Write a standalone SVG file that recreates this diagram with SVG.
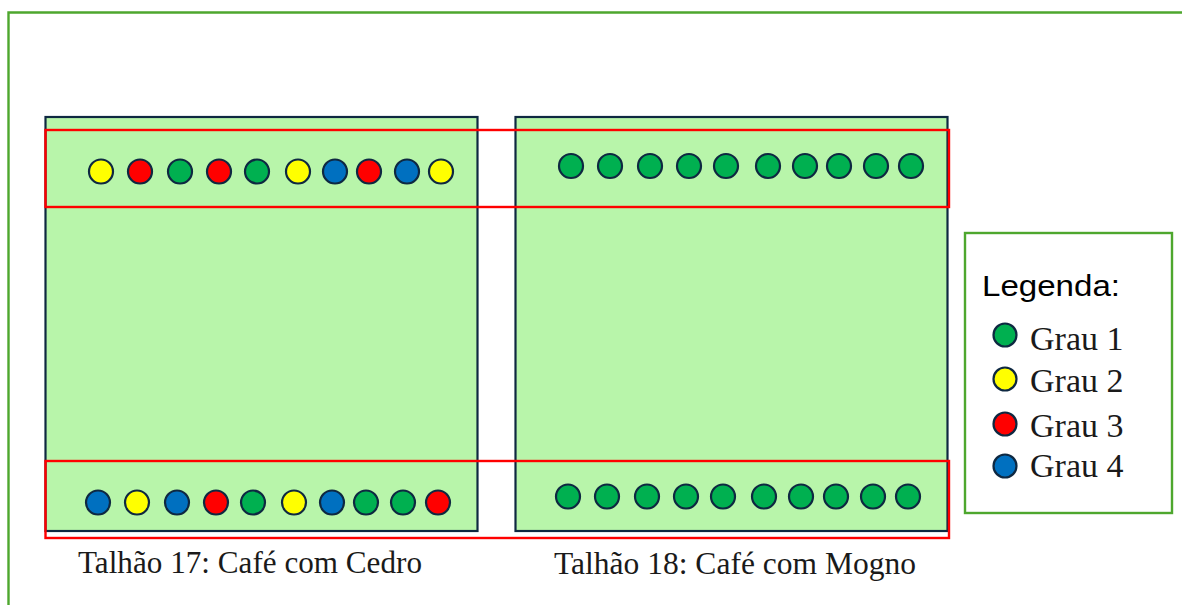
<svg xmlns="http://www.w3.org/2000/svg" width="1182" height="605" viewBox="0 0 1182 605">
<style>
.plot{fill:#b8f5aa;stroke:#0e2841;stroke-width:2.2}
.band{fill:none;stroke:#ff0000;stroke-width:2.4}
.frame{fill:none;stroke:#4ea72e;stroke-width:2.4}
.d{stroke:#0e2841;stroke-width:2.2}
.g{fill:#00b050}.y{fill:#ffff00}.r{fill:#ff0000}.b{fill:#0070c0}
.lbl{font-family:"Liberation Serif","Times New Roman",serif;font-size:31px;fill:#1a1a1a}
.leg{font-family:"Liberation Serif","Times New Roman",serif;font-size:34px;fill:#1a1a1a}
.title{font-family:"Liberation Sans",Arial,sans-serif;font-size:29px;fill:#000}
</style>
<rect width="1182" height="605" fill="#ffffff"/>
<g id="frame"><path class="frame" d="M8.5,605 V12.5 H1182"/></g>
<g id="talhao17">
<rect class="plot" x="45.5" y="117" width="432" height="414"/>
<text class="lbl" x="78" y="573" textLength="344" lengthAdjust="spacingAndGlyphs">Talhão 17: Café com Cedro</text>
</g>
<g id="talhao18">
<rect class="plot" x="515.5" y="117" width="432" height="414"/>
<text class="lbl" x="554" y="574" textLength="362" lengthAdjust="spacingAndGlyphs">Talhão 18: Café com Mogno</text>
</g>
<g id="bands">
<rect class="band" x="45.5" y="130" width="903.5" height="77"/>
<rect class="band" x="45.5" y="461" width="903.5" height="77"/>
</g>
<g id="row17top" class="d">
<circle class="y" cx="101" cy="171.5" r="12"/>
<circle class="r" cx="140" cy="171.5" r="12"/>
<circle class="g" cx="180" cy="171.5" r="12"/>
<circle class="r" cx="219" cy="171.5" r="12"/>
<circle class="g" cx="257" cy="171.5" r="12"/>
<circle class="y" cx="298" cy="171.5" r="12"/>
<circle class="b" cx="335" cy="171.5" r="12"/>
<circle class="r" cx="369" cy="171.5" r="12"/>
<circle class="b" cx="407" cy="171.5" r="12"/>
<circle class="y" cx="441" cy="171.5" r="12"/>
</g>
<g id="row17bottom" class="d">
<circle class="b" cx="98" cy="502.5" r="12"/>
<circle class="y" cx="137" cy="502.5" r="12"/>
<circle class="b" cx="177" cy="502.5" r="12"/>
<circle class="r" cx="216" cy="502.5" r="12"/>
<circle class="g" cx="253" cy="502.5" r="12"/>
<circle class="y" cx="294" cy="502.5" r="12"/>
<circle class="b" cx="332" cy="502.5" r="12"/>
<circle class="g" cx="366" cy="502.5" r="12"/>
<circle class="g" cx="403" cy="502.5" r="12"/>
<circle class="r" cx="438" cy="502.5" r="12"/>
</g>
<g id="row18top" class="d">
<circle class="g" cx="571" cy="166" r="12"/>
<circle class="g" cx="610" cy="166" r="12"/>
<circle class="g" cx="650" cy="166" r="12"/>
<circle class="g" cx="689" cy="166" r="12"/>
<circle class="g" cx="726" cy="166" r="12"/>
<circle class="g" cx="768" cy="166" r="12"/>
<circle class="g" cx="805" cy="166" r="12"/>
<circle class="g" cx="839" cy="166" r="12"/>
<circle class="g" cx="876" cy="166" r="12"/>
<circle class="g" cx="911" cy="166" r="12"/>
</g>
<g id="row18bottom" class="d">
<circle class="g" cx="568" cy="496.5" r="12"/>
<circle class="g" cx="607" cy="496.5" r="12"/>
<circle class="g" cx="647" cy="496.5" r="12"/>
<circle class="g" cx="686" cy="496.5" r="12"/>
<circle class="g" cx="723" cy="496.5" r="12"/>
<circle class="g" cx="764" cy="496.5" r="12"/>
<circle class="g" cx="801" cy="496.5" r="12"/>
<circle class="g" cx="836" cy="496.5" r="12"/>
<circle class="g" cx="873" cy="496.5" r="12"/>
<circle class="g" cx="908" cy="496.5" r="12"/>
</g>
<g id="legend">
<rect class="frame" x="965" y="233" width="207" height="280"/>
<text class="title" x="982" y="296" textLength="138" lengthAdjust="spacingAndGlyphs">Legenda:</text>
<g class="d">
<circle class="g" cx="1005" cy="335" r="11.5"/>
<circle class="y" cx="1005" cy="379" r="11.5"/>
<circle class="r" cx="1005" cy="424" r="11.5"/>
<circle class="b" cx="1005" cy="466" r="11.5"/>
</g>
<text class="leg" x="1030" y="350">Grau 1</text>
<text class="leg" x="1030" y="392">Grau 2</text>
<text class="leg" x="1030" y="437">Grau 3</text>
<text class="leg" x="1030" y="477">Grau 4</text>
</g>
</svg>
